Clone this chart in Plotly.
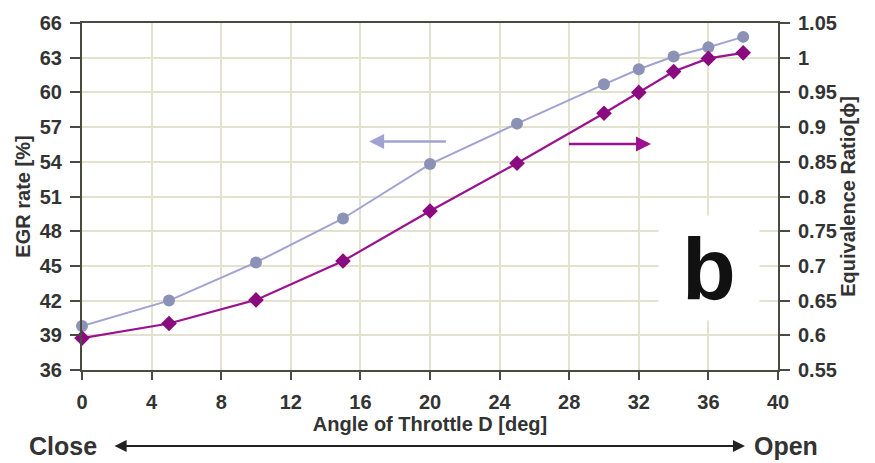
import plotly.graph_objects as go

# Throttle D opening angle [deg]
angle = [0, 5, 10, 15, 20, 25, 30, 32, 34, 36, 38]
# EGR rate [%] (left axis)
egr_rate = [39.8, 42.0, 45.3, 49.1, 53.8, 57.3, 60.7, 62.0, 63.1, 63.9, 64.8]
# Equivalence ratio (right axis)
equiv_ratio = [0.596, 0.617, 0.651, 0.707, 0.779, 0.848, 0.920, 0.950, 0.980, 0.999, 1.007]

x_ticks = list(range(0, 41, 4))
egr_ticks = list(range(36, 67, 3))
phi_ticks = [0.55, 0.6, 0.65, 0.7, 0.75, 0.8, 0.85, 0.9, 0.95, 1, 1.05]
phi_labels = ["0.55", "0.6", "0.65", "0.7", "0.75", "0.8", "0.85", "0.9", "0.95", "1", "1.05"]

FONT = "Liberation Sans"
TXT = "#333333"
AXIS = "#4a4a42"
GRID = "#e2e2cf"
EGR_LINE = "#a0a3d2"
EGR_MARK = "#8c92b6"
PHI_LINE = "#9a1290"
PHI_MARK = "#8a0a80"

fig = go.Figure()

fig.add_trace(go.Scatter(
    x=angle, y=egr_rate, mode="lines+markers", yaxis="y",
    line=dict(color=EGR_LINE, width=2),
    marker=dict(symbol="circle", size=12, color=EGR_MARK),
    showlegend=False, cliponaxis=False,
))
fig.add_trace(go.Scatter(
    x=angle, y=equiv_ratio, mode="lines+markers", yaxis="y2",
    line=dict(color=PHI_LINE, width=2.2),
    marker=dict(symbol="diamond", size=12, color=PHI_MARK),
    showlegend=False, cliponaxis=False,
))

tick_font = dict(family=FONT, size=20, color=TXT, weight="bold")
title_font = dict(family=FONT, size=20, color=TXT, weight="bold")

fig.update_layout(
    width=875, height=463,
    margin=dict(l=82, r=97, t=18, b=93),
    paper_bgcolor="white", plot_bgcolor="white",
    xaxis=dict(
        range=[0, 40], tickmode="array", tickvals=x_ticks,
        showgrid=True, gridcolor=GRID, gridwidth=1.5,
        showline=True, linecolor=AXIS, linewidth=2, mirror=True,
        ticks="outside", ticklen=8, tickwidth=2, tickcolor=AXIS,
        tickfont=tick_font, zeroline=False, ticklabelstandoff=5,
        title=dict(text="Angle of Throttle D [deg]", font=title_font, standoff=2),
    ),
    yaxis=dict(
        range=[36, 66], tickmode="array", tickvals=egr_ticks,
        showgrid=True, gridcolor=GRID, gridwidth=1.5,
        showline=True, linecolor=AXIS, linewidth=2,
        ticks="outside", ticklen=10, tickwidth=2, tickcolor=AXIS,
        tickfont=tick_font, zeroline=False, ticklabelstandoff=4,
        title=dict(text="EGR rate [%]", font=title_font, standoff=4),
    ),
    yaxis2=dict(
        range=[0.55, 1.05], tickmode="array", tickvals=phi_ticks, ticktext=phi_labels,
        overlaying="y", side="right", showgrid=False,
        showline=True, linecolor=AXIS, linewidth=2,
        ticks="outside", ticklen=10, tickwidth=2, tickcolor=AXIS,
        tickfont=tick_font, zeroline=False, ticklabelstandoff=4,
        title=dict(text="Equivalence Ratio[ϕ]", font=title_font, standoff=4),
    ),
)

# Direction arrows pointing to each series' axis
fig.add_annotation(x=16.5, y=55.75, xref="x", yref="y", ax=21.0, ay=55.75,
                   axref="x", ayref="y", text="", showarrow=True,
                   arrowhead=2, arrowsize=1.2, arrowwidth=2.5, arrowcolor=EGR_LINE)
fig.add_annotation(x=32.7, y=0.8755, xref="x", yref="y2", ax=27.9, ay=0.8755,
                   axref="x", ayref="y2", text="", showarrow=True,
                   arrowhead=2, arrowsize=1.2, arrowwidth=2.5, arrowcolor=PHI_LINE)

# Panel label
fig.add_annotation(x=0.9009, y=0.295, xref="paper", yref="paper", text="<b>b</b>",
                   xanchor="center", yanchor="middle",
                   showarrow=False, bgcolor="white", width=98, height=102,
                   font=dict(family=FONT, size=88, color="#111111"))

# Close / Open throttle direction
fig.add_annotation(x=0.9526, y=-0.219, xref="paper", yref="paper",
                   ax=-632, ay=0, text="", showarrow=True,
                   arrowhead=2, startarrowhead=2, arrowside="end+start",
                   arrowsize=1.1, arrowwidth=2.2, arrowcolor="#222222")
fig.add_annotation(x=-0.0273, y=-0.219, xref="paper", yref="paper", text="<b>Close</b>",
                   xanchor="center", yanchor="middle",
                   showarrow=False, font=dict(family=FONT, size=25, color=TXT))
fig.add_annotation(x=1.0115, y=-0.219, xref="paper", yref="paper", text="<b>Open</b>",
                   xanchor="center", yanchor="middle",
                   showarrow=False, font=dict(family=FONT, size=25, color=TXT))

fig.write_html("out.html")
